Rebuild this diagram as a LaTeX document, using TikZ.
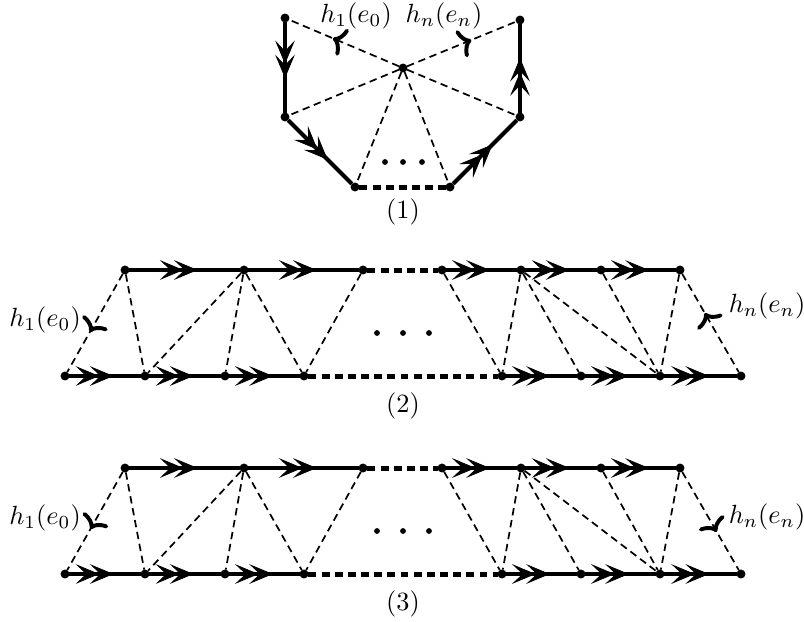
\documentclass[tikz,border=0pt]{standalone}
\usetikzlibrary{arrows.meta}
\usetikzlibrary{decorations.markings}

\begin{document}
\begin{tikzpicture}[x=0.38pt,y=-0.38pt,
vtx/.style={circle,fill,inner sep=0pt,outer sep=0pt,minimum size=3.4pt},
dotmark/.style={circle,fill,inner sep=0pt,minimum size=2.2pt},
thickedge/.style={line width=1.6pt},
gapedge/.style={line width=1.9pt,dash pattern=on 3pt off 2pt},
hdash/.style={line width=0.65pt,dash pattern=on 2.8pt off 1.8pt},
twoarr/.style={postaction={decorate,decoration={markings,mark=at position 0.62 with {\arrow[line width=0.3pt]{Stealth[length=9pt,width=7.5pt,inset=4pt,sep=-3.6pt] Stealth[length=9pt,width=7.5pt,inset=4pt]}}}}},
hfwd/.style={postaction={decorate,decoration={markings,mark=at position #1 with {\arrow[solid,line width=1.5pt]{Computer Modern Rightarrow[length=4.5pt,width=11pt]}}}}},
hback/.style={postaction={decorate,decoration={markings,mark=at position #1 with {\arrowreversed[solid,line width=1.5pt]{Computer Modern Rightarrow[length=4.5pt,width=11pt]}}}}}]

\useasboundingbox (0,0) rectangle (804,621);

% (1)
\node[vtx] (A) at (285,18) {};
\node[vtx] (B) at (285,117) {};
\node[vtx] (C) at (355,187) {};
\node[vtx] (D) at (450,187) {};
\node[vtx] (E) at (520,117) {};
\node[vtx] (F) at (520,20) {};
\node[vtx] (O) at (403,68) {};

\draw[hdash,hfwd=0.6] (O) -- (A);
\draw[hdash] (O) -- (B);
\draw[hdash] (O) -- (C);
\draw[hdash] (O) -- (D);
\draw[hdash] (O) -- (E);
\draw[hdash,hfwd=0.59] (O) -- (F);
\draw[thickedge,twoarr] (A) -- (B);
\draw[thickedge,twoarr] (B) -- (C);
\draw[gapedge] (C) -- (D);
\draw[thickedge,twoarr] (D) -- (E);
\draw[thickedge,twoarr] (E) -- (F);

\node[dotmark] (dta) at (385,162) {};
\node[dotmark] (dtb) at (403,162) {};
\node[dotmark] (dtc) at (422,162) {};
\node (hlt) at (356,16) {$h_1(e_0)$};
\node (hrt) at (444,16) {$h_n(e_n)$};
\node (capa) at (403,212) {(1)};

% (2)
\node[vtx] (p1) at (125,270) {};
\node[vtx] (p2) at (244,270) {};
\node[vtx] (p3) at (363,270) {};
\node[vtx] (p4) at (442,270) {};
\node[vtx] (p5) at (521,270) {};
\node[vtx] (p6) at (601,270) {};
\node[vtx] (p7) at (680,270) {};
\node[vtx] (q1) at (65,376) {};
\node[vtx] (q2) at (145,376) {};
\node[vtx] (q3) at (225,376) {};
\node[vtx] (q4) at (304,376) {};
\node[vtx] (q5) at (502,376) {};
\node[vtx] (q6) at (581,376) {};
\node[vtx] (q7) at (660,376) {};
\node[vtx] (q8) at (741,376) {};

\draw[hdash,hfwd=0.59] (p1) -- (q1);
\draw[hdash] (p1) -- (q2);
\draw[hdash] (p2) -- (q2);
\draw[hdash] (p2) -- (q3);
\draw[hdash] (p2) -- (q4);
\draw[hdash] (p3) -- (q4);
\draw[hdash] (p4) -- (q5);
\draw[hdash] (p5) -- (q5);
\draw[hdash] (p5) -- (q6);
\draw[hdash] (p5) -- (q7);
\draw[hdash] (p6) -- (q7);
\draw[hdash] (p7) -- (q7);
\draw[hdash,hback=0.4] (p7) -- (q8);
\draw[thickedge,twoarr] (p1) -- (p2);
\draw[thickedge,twoarr] (p2) -- (p3);
\draw[gapedge] (p3) -- (p4);
\draw[thickedge,twoarr] (p4) -- (p5);
\draw[thickedge,twoarr] (p5) -- (p6);
\draw[thickedge,twoarr] (p6) -- (p7);
\draw[thickedge,twoarr] (q1) -- (q2);
\draw[thickedge,twoarr] (q2) -- (q3);
\draw[thickedge,twoarr] (q3) -- (q4);
\draw[gapedge] (q4) -- (q5);
\draw[thickedge,twoarr] (q5) -- (q6);
\draw[thickedge,twoarr] (q6) -- (q7);
\draw[thickedge,twoarr] (q7) -- (q8);

\node[dotmark] (dba) at (377,333) {};
\node[dotmark] (dbb) at (403,333) {};
\node[dotmark] (dbc) at (429,333) {};
\node (hlb) at (45,320) {$h_1(e_0)$};
\node (hrb) at (767,306) {$h_n(e_n)$};
\node (capb) at (403,406) {(2)};

% (3)
\node[vtx] (r1) at (125,468) {};
\node[vtx] (r2) at (244,468) {};
\node[vtx] (r3) at (363,468) {};
\node[vtx] (r4) at (442,468) {};
\node[vtx] (r5) at (521,468) {};
\node[vtx] (r6) at (601,468) {};
\node[vtx] (r7) at (680,468) {};
\node[vtx] (s1) at (65,574) {};
\node[vtx] (s2) at (145,574) {};
\node[vtx] (s3) at (225,574) {};
\node[vtx] (s4) at (304,574) {};
\node[vtx] (s5) at (502,574) {};
\node[vtx] (s6) at (581,574) {};
\node[vtx] (s7) at (660,574) {};
\node[vtx] (s8) at (741,574) {};

\draw[hdash,hfwd=0.58] (r1) -- (s1);
\draw[hdash] (r1) -- (s2);
\draw[hdash] (r2) -- (s2);
\draw[hdash] (r2) -- (s3);
\draw[hdash] (r2) -- (s4);
\draw[hdash] (r3) -- (s4);
\draw[hdash] (r4) -- (s5);
\draw[hdash] (r5) -- (s5);
\draw[hdash] (r5) -- (s6);
\draw[hdash] (r5) -- (s7);
\draw[hdash] (r6) -- (s7);
\draw[hdash] (r7) -- (s7);
\draw[hdash,hfwd=0.61] (r7) -- (s8);
\draw[thickedge,twoarr] (r1) -- (r2);
\draw[thickedge,twoarr] (r2) -- (r3);
\draw[gapedge] (r3) -- (r4);
\draw[thickedge,twoarr] (r4) -- (r5);
\draw[thickedge,twoarr] (r5) -- (r6);
\draw[thickedge,twoarr] (r6) -- (r7);
\draw[thickedge,twoarr] (s1) -- (s2);
\draw[thickedge,twoarr] (s2) -- (s3);
\draw[thickedge,twoarr] (s3) -- (s4);
\draw[gapedge] (s4) -- (s5);
\draw[thickedge,twoarr] (s5) -- (s6);
\draw[thickedge,twoarr] (s6) -- (s7);
\draw[thickedge,twoarr] (s7) -- (s8);

\node[dotmark] (dca) at (377,531) {};
\node[dotmark] (dcb) at (403,531) {};
\node[dotmark] (dcc) at (429,531) {};
\node (hlc) at (45,518) {$h_1(e_0)$};
\node (hrc) at (767,517) {$h_n(e_n)$};
\node (capc) at (403,604) {(3)};

\end{tikzpicture}
\end{document}
